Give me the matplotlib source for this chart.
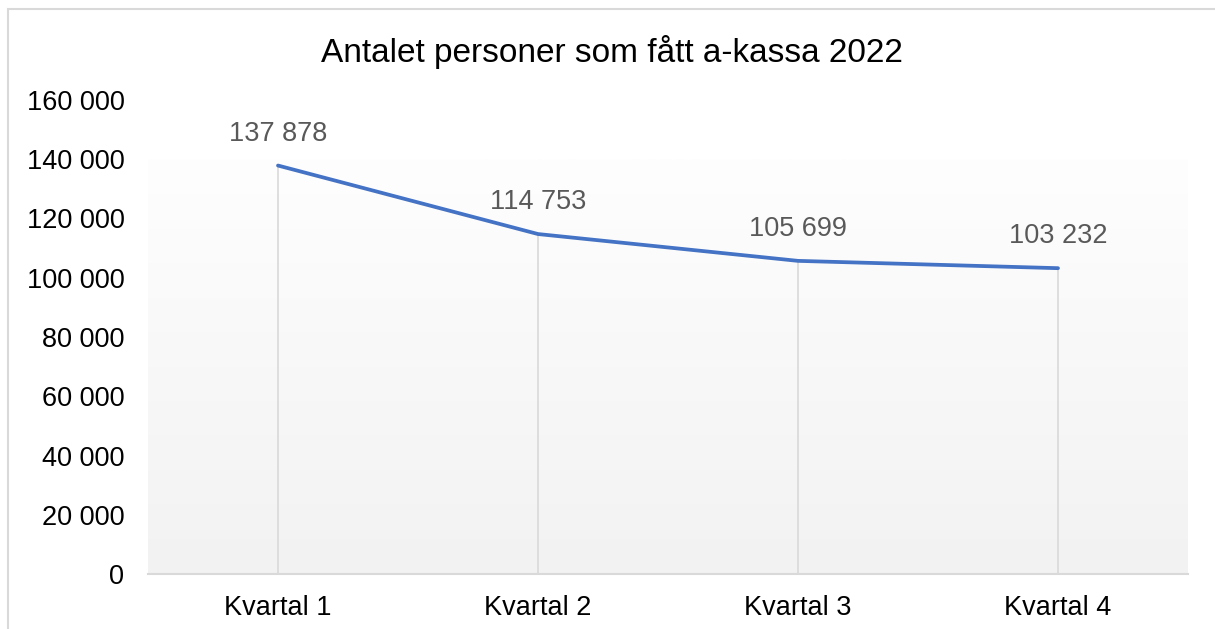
import numpy as np
import matplotlib
matplotlib.use("Agg")
import matplotlib.pyplot as plt
from matplotlib.patches import Rectangle
from matplotlib.ticker import FuncFormatter

quarters = ["Kvartal 1", "Kvartal 2", "Kvartal 3", "Kvartal 4"]
persons = [137878, 114753, 105699, 103232]
yticks = [0, 20000, 40000, 60000, 80000, 100000, 120000, 140000, 160000]

plt.rcParams["font.family"] = ["Liberation Sans", "DejaVu Sans"]


def space_fmt(v, pos=None):
    return f"{v:,.0f}".replace(",", " ")


fig = plt.figure(figsize=(12.15, 6.29), dpi=100)
ax = fig.add_axes([148 / 1215, 1 - 574 / 629, 1040 / 1215, 474 / 629])

# chart border (cut off on right/bottom like the reference)
fig.patches.append(Rectangle((8 / 1215, -0.1), 1.2, 1 - 9 / 629 + 0.1,
                             transform=fig.transFigure, fill=False,
                             edgecolor="#d9d9d9", linewidth=1.5))

x = np.arange(len(quarters))
ax.set_xlim(-0.5, len(quarters) - 0.5)
ax.set_ylim(0, 160000)

# plot area gradient fill
top = 140000
grad = np.linspace(0, 1, 256).reshape(-1, 1)
c_top = np.array([0xfe, 0xfe, 0xfe]) / 255
c_bot = np.array([0xf2, 0xf2, 0xf2]) / 255
img = c_bot + (c_top - c_bot) * grad[..., None]
ax.imshow(img, extent=(-0.5, len(quarters) - 0.5, 0, top), origin="lower",
          aspect="auto", zorder=0)

ax.vlines(x, 0, persons, colors="#d9d9d9", linewidth=1.2, zorder=1)
ax.plot(x, persons, color="#4472C4", linewidth=2.7, solid_capstyle="round", zorder=3)

for xi, v in zip(x, persons):
    ax.annotate(space_fmt(v), (xi, v), xytext=(0, 23), textcoords="offset points",
                ha="center", va="center", fontsize=19.5, color="#595959")

ax.set_xticks(x)
ax.set_xticklabels(quarters)
ax.set_yticks(yticks)
ax.yaxis.set_major_formatter(FuncFormatter(space_fmt))
ax.tick_params(axis="x", length=0, pad=15, labelsize=19.5)
ax.tick_params(axis="y", length=0, pad=17, labelsize=19.5)

for s in ["top", "right", "left"]:
    ax.spines[s].set_visible(False)
ax.spines["bottom"].set_color("#d9d9d9")
ax.spines["bottom"].set_linewidth(1.5)

fig.text(612 / 1215, 1 - 52 / 629, "Antalet personer som fått a-kassa 2022",
         ha="center", va="center", fontsize=24, color="black")

fig.savefig("out.png", dpi=100)
